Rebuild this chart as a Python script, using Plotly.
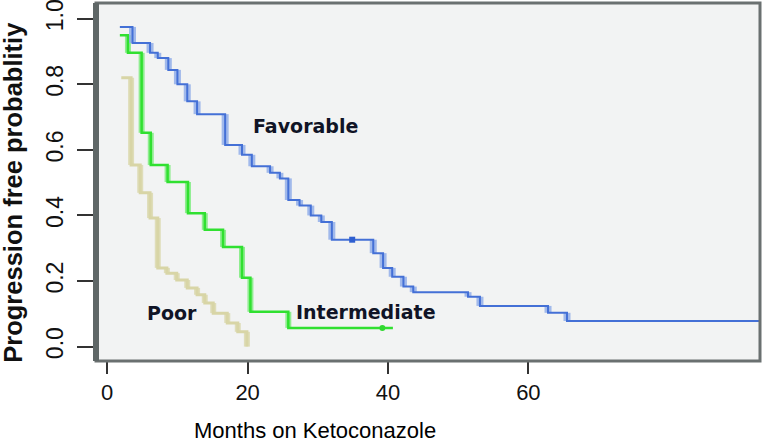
import plotly.graph_objects as go

# ---- data (months, progression-free probability) ----
fav_t = [1.8, 3.6, 6.1, 7.2, 8.7, 10.0, 11.4, 12.8, 16.8, 19.2, 20.6, 23.2, 24.6,
         25.8, 27.4, 29.0, 30.5, 32.0, 37.9, 39.3, 40.6, 42.2, 43.6, 51.4, 53.1, 62.8, 65.5]
fav_s = [0.975, 0.926, 0.896, 0.880, 0.844, 0.800, 0.748, 0.709, 0.615, 0.585, 0.550, 0.530, 0.513,
         0.447, 0.430, 0.400, 0.380, 0.326, 0.285, 0.240, 0.213, 0.183, 0.166, 0.152, 0.124, 0.103, 0.078]
fav_end = 93.0
fav_cens_t = [34.9]
fav_cens_s = [0.326]

int_t = [1.8, 2.95, 4.9, 6.2, 8.6, 11.5, 13.9, 16.5, 19.2, 20.4, 25.8]
int_s = [0.95, 0.896, 0.652, 0.554, 0.502, 0.407, 0.356, 0.304, 0.21, 0.106, 0.057]
int_end = 40.7
int_cens_t = [39.2]
int_cens_s = [0.057]

poor_t = [2.0, 3.4, 4.7, 6.1, 7.2, 8.5, 9.9, 11.4, 12.8, 13.9, 15.1, 17.1, 18.6, 19.9]
poor_s = [0.82, 0.554, 0.469, 0.392, 0.24, 0.224, 0.203, 0.179, 0.158, 0.133, 0.102, 0.072, 0.045, 0.0]
poor_end = 19.9

x_ticks = [0, 20, 40, 60]
y_ticks = [0.0, 0.2, 0.4, 0.6, 0.8, 1.0]
y_ticktext = ["0.0", "0.2", "0.4", "0.6", "0.8", "1.0"]

fig = go.Figure()


def add_curve(t, s, end, main, halo, wmain, whalo):
    vx, vy = [], []
    for i in range(1, len(t)):
        vx += [t[i], t[i], None]
        vy += [s[i - 1], s[i], None]
    fig.add_trace(go.Scatter(x=vx, y=vy, mode="lines",
                             line=dict(color=halo, width=whalo), hoverinfo="skip"))
    fig.add_trace(go.Scatter(x=t + [end], y=s + [s[-1]], mode="lines",
                             line=dict(color=main, width=wmain, shape="hv")))


add_curve(poor_t, poor_s, poor_end, "#d8d5a6", "rgba(218,215,170,0.8)", 3, 6)
add_curve(int_t, int_s, int_end, "#30e030", "rgba(110,235,110,0.75)", 2.5, 6)
add_curve(fav_t, fav_s, fav_end, "#4470d6", "rgba(140,170,232,0.8)", 2, 7)

fig.add_trace(go.Scatter(x=int_cens_t, y=int_cens_s, mode="markers",
                         marker=dict(color="#30d830", size=6, symbol="circle")))
fig.add_trace(go.Scatter(x=fav_cens_t, y=fav_cens_s, mode="markers",
                         marker=dict(color="#2f5fd0", size=6, symbol="square")))

label_font = dict(family="DejaVu Sans", size=19, color="#101426")
annos = [
    dict(x=28.3, y=0.673, text="<b>Favorable</b>", xref="x", yref="y", showarrow=False, font=label_font),
    dict(x=36.9, y=0.106, text="<b>Intermediate</b>", xref="x", yref="y", showarrow=False, font=label_font),
    dict(x=9.2, y=0.103, text="<b>Poor</b>", xref="x", yref="y", showarrow=False, font=label_font),
    dict(x=-0.125, y=0.47, xref="paper", yref="paper", text="<b>Progression free probablitiy</b>",
         textangle=-90, showarrow=False, xanchor="center", yanchor="middle",
         font=dict(family="Liberation Sans", size=25.5, color="#111111")),
    dict(x=0.33, y=-0.193, xref="paper", yref="paper", text="Months on Ketoconazole",
         showarrow=False, xanchor="center", yanchor="middle",
         font=dict(family="Liberation Sans", size=22, color="#000000")),
]

fig.update_layout(
    width=768, height=442,
    margin=dict(l=96, r=8, t=3, b=81, autoexpand=False),
    paper_bgcolor="white", plot_bgcolor="#f2f3f3",
    showlegend=False,
    annotations=annos,
    shapes=[
        dict(type="rect", xref="paper", yref="paper", x0=0, x1=1, y0=0, y1=1,
             line=dict(color="#6a7070", width=3), layer="above"),
        dict(type="line", xref="paper", yref="paper", x0=0, x1=0, y0=0, y1=1,
             line=dict(color="#5f6767", width=6), layer="above"),
    ],
    xaxis=dict(range=[-1.6, 93.0], tickvals=x_ticks, ticks="outside", ticklen=12,
               tickwidth=2, tickcolor="#333", showgrid=False, zeroline=False, showline=False,
               automargin=False,
               tickfont=dict(family="Liberation Sans", size=22, color="#111")),
    yaxis=dict(range=[-0.044, 1.048], tickvals=y_ticks, ticktext=y_ticktext, tickangle=-90,
               ticks="outside", ticklen=18, tickwidth=2, tickcolor="#333", showgrid=False,
               zeroline=False, showline=False, automargin=False, ticklabelstandoff=5,
               ticklabeloverflow="allow",
               tickfont=dict(family="Liberation Sans", size=23, color="#111")),
)

fig.write_html("out.html", config={"displayModeBar": False},
               post_script="document.body.style.margin='0';document.body.style.padding='0';")
